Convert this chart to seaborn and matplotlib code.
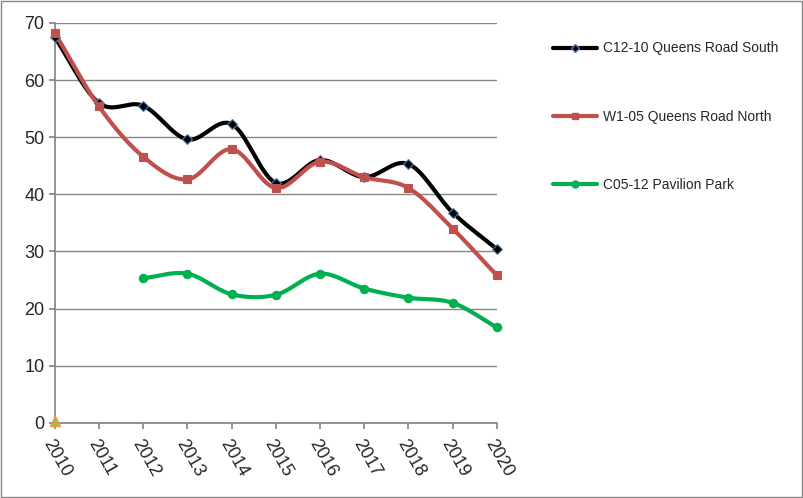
import numpy as np
import pandas as pd
import matplotlib
matplotlib.use("Agg")
import matplotlib.pyplot as plt
import seaborn as sns

years = list(range(2010, 2021))
queens_south = [67.5, 56.0, 55.5, 49.6, 52.3, 42.0, 46.0, 43.0, 45.3, 36.8, 30.4]
queens_north = [68.3, 55.4, 46.6, 42.6, 47.9, 41.1, 45.7, 43.0, 41.1, 34.0, 25.8]
pavilion_years = list(range(2012, 2021))
pavilion = [25.3, 26.1, 22.5, 22.4, 26.1, 23.5, 21.9, 21.0, 16.7]
stray_years = [2010]
stray = [0.3]


def smooth(x, y, n=20):
    # catmull-rom curve through the points, like Excel's smoothed line
    x = np.asarray(x, float)
    y = np.asarray(y, float)
    px = np.concatenate([[2 * x[0] - x[1]], x, [2 * x[-1] - x[-2]]])
    py = np.concatenate([[2 * y[0] - y[1]], y, [2 * y[-1] - y[-2]]])
    xs, ys = [], []
    t = np.linspace(0, 1, n, endpoint=False)
    for i in range(1, len(px) - 2):
        for p, out in ((px, xs), (py, ys)):
            p0, p1, p2, p3 = p[i - 1:i + 3]
            out.extend(0.5 * (2 * p1 + (-p0 + p2) * t + (2 * p0 - 5 * p1 + 4 * p2 - p3) * t ** 2
                              + (-p0 + 3 * p1 - 3 * p2 + p3) * t ** 3))
    xs.append(x[-1]); ys.append(y[-1])
    return np.array(xs), np.array(ys)


sns.set_theme(style="white")
plt.rcParams['font.family'] = ['Liberation Sans', 'DejaVu Sans']

fig = plt.figure(figsize=(8.04, 4.98), dpi=100)
ax = fig.add_axes([0.068, 0.151, 0.55, 0.803])

series = [
    ("C12-10 Queens Road South", years, queens_south, "black", "D", 5, "#4f81bd"),
    ("W1-05 Queens Road North", years, queens_north, "#c0504d", "s", 6, "#c0504d"),
    ("C05-12 Pavilion Park", pavilion_years, pavilion, "#00b050", "o", 6, "#00b050"),
]
handles = []
for label, xv, yv, col, mk, ms, mec in series:
    sx, sy = smooth(xv, yv)
    sns.lineplot(x=sx, y=sy, ax=ax, color=col, lw=3, sort=False, estimator=None, legend=False)
    ax.plot(xv, yv, ls="none", marker=mk, ms=ms, color=col, mec=mec, mew=0.8, zorder=5, clip_on=False)
    h, = ax.plot([], [], color=col, lw=3, marker=mk, ms=ms - 1, mec=mec)
    h.set_label(label)
    handles.append(h)

ax.plot(stray_years, stray, ls="none", marker="^", ms=7, color="#9bbb59", mec="#f79646", zorder=6, clip_on=False)
if ax.get_legend() is not None:
    ax.get_legend().remove()

ax.set_xlim(2010, 2020)
ax.set_ylim(0, 70)
ax.set_yticks(range(0, 71, 10))
ax.set_xticks(years)
ax.set_xticklabels([str(y) for y in years], rotation=-60, ha="left", rotation_mode="anchor", fontsize=13)
ax.tick_params(axis="y", labelsize=13, length=4, color="#868686", direction="out", left=True)
ax.tick_params(axis="x", length=4, color="#868686", direction="out", bottom=True, pad=6)
ax.yaxis.grid(True, color="#868686", lw=1)
for s in ["top", "right"]:
    ax.spines[s].set_visible(False)
for s in ["left", "bottom"]:
    ax.spines[s].set_color("#868686")

fig.legend(handles=handles, loc="upper left", bbox_to_anchor=(0.672, 0.942), frameon=False,
           fontsize=10, labelspacing=3.9, handlelength=3.2, handletextpad=0.4)

fig.add_artist(plt.Rectangle((0.001, 0.002), 0.997, 0.996, transform=fig.transFigure,
                             fill=False, edgecolor="#868686", lw=1))
fig.savefig("out.png", dpi=100)
